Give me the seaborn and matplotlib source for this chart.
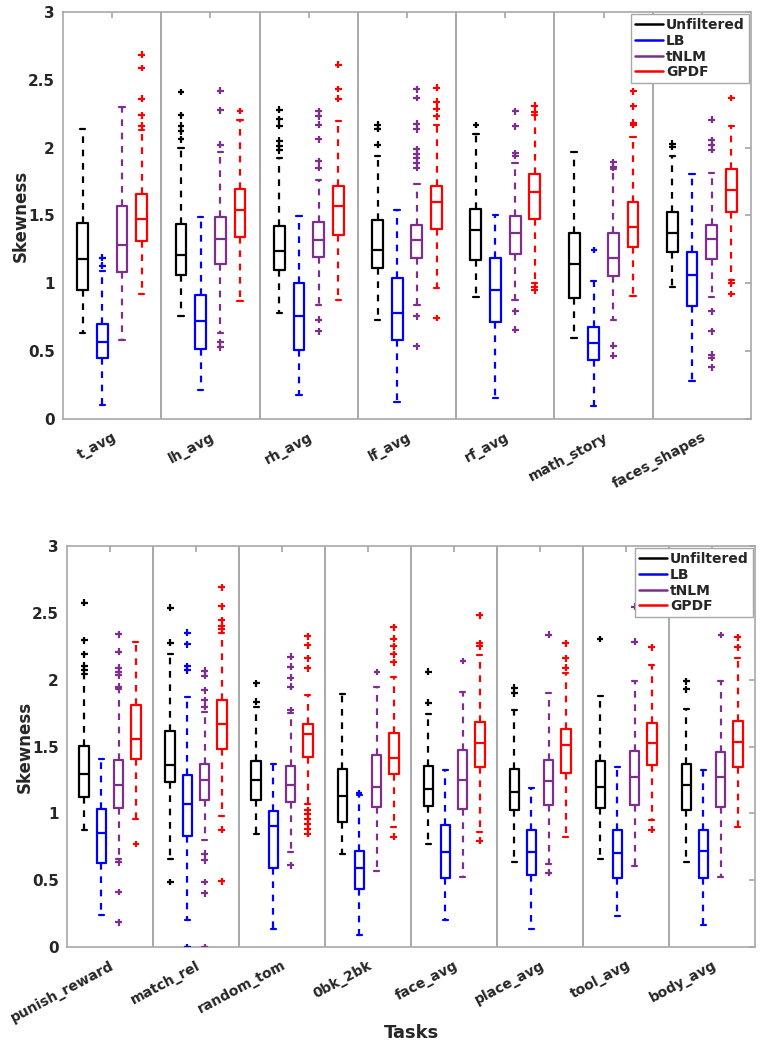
import numpy as np
import pandas as pd
import matplotlib
matplotlib.use("Agg")
import matplotlib.pyplot as plt
import seaborn as sns
from matplotlib.lines import Line2D

# ---------------- data ----------------
FILTERS = ["Unfiltered", "LB", "tNLM", "GPDF"]
COLORS = ["#000000", "#0000ff", "#7e2f8e", "#ff0000"]

TOP_TASKS = ["t_avg", "lh_avg", "rh_avg", "lf_avg", "rf_avg", "math_story", "faces_shapes"]
# five-number summaries: [whisker low, q1, median, q3, whisker high]
TOP_UNF = [[0.63, 0.95, 1.18, 1.445, 2.14], [0.76, 1.06, 1.21, 1.44, 2.00],
           [0.78, 1.10, 1.235, 1.425, 1.92], [0.73, 1.11, 1.245, 1.465, 1.94],
           [0.90, 1.17, 1.39, 1.55, 2.10], [0.60, 0.89, 1.145, 1.37, 1.97],
           [0.97, 1.23, 1.37, 1.525, 1.94]]
TOP_LB = [[0.105, 0.447, 0.565, 0.70, 1.09], [0.216, 0.516, 0.72, 0.916, 1.489],
          [0.179, 0.511, 0.762, 1.002, 1.494], [0.125, 0.58, 0.781, 1.039, 1.538],
          [0.155, 0.713, 0.953, 1.19, 1.506], [0.093, 0.432, 0.56, 0.676, 1.02],
          [0.283, 0.835, 1.061, 1.229, 1.808]]
TOP_TNLM = [[0.585, 1.083, 1.283, 1.573, 2.30], [0.634, 1.142, 1.327, 1.489, 1.97],
            [0.843, 1.194, 1.322, 1.452, 1.76], [0.843, 1.187, 1.322, 1.427, 1.735],
            [0.88, 1.216, 1.371, 1.494, 1.887], [0.732, 1.052, 1.187, 1.371, 1.84],
            [0.90, 1.179, 1.327, 1.427, 1.81]]
TOP_GPDF = [[0.924, 1.315, 1.477, 1.66, 2.13], [0.867, 1.339, 1.538, 1.695, 2.20],
            [0.88, 1.359, 1.572, 1.715, 2.194], [0.966, 1.40, 1.60, 1.72, 2.17],
            [1.0, 1.474, 1.671, 1.808, 2.24], [0.904, 1.268, 1.415, 1.597, 2.079],
            [1.027, 1.528, 1.69, 1.843, 2.157]]
# outliers
TOP_UNF_OUT = [[], [2.41, 2.24, 2.16, 2.12, 2.06], [2.28, 2.21, 2.16, 2.05, 2.01, 1.98],
               [2.17, 2.14, 2.02], [2.17], [], [2.03, 2.005]]
TOP_LB_OUT = [[1.19, 1.13], [], [], [], [], [1.248], []]
TOP_TNLM_OUT = [[], [2.42, 2.275, 2.02, 0.565, 0.528],
                [2.268, 2.231, 2.17, 2.06, 1.90, 1.85, 0.732, 0.646],
                [2.43, 2.366, 2.177, 2.137, 1.99, 1.956, 1.924, 1.887, 1.85, 0.757, 0.536],
                [2.268, 2.157, 1.96, 1.94, 0.794, 0.658], [1.894, 1.857, 0.54, 0.467],
                [2.206, 2.054, 2.022, 1.985, 0.794, 0.646, 0.474, 0.45, 0.381]]
TOP_GPDF_OUT = [[2.686, 2.587, 2.36, 2.24, 2.16], [2.268], [2.612, 2.432, 2.359],
                [2.44, 2.34, 2.285, 2.23, 0.744], [2.31, 2.26, 0.973, 0.948],
                [2.415, 2.305, 2.182, 2.17], [2.366, 1.0, 0.921]]

BOT_TASKS = ["punish_reward", "match_rel", "random_tom", "0bk_2bk",
             "face_avg", "place_avg", "tool_avg", "body_avg"]
BOT_UNF = [[0.873, 1.123, 1.298, 1.502, 2.046], [0.661, 1.235, 1.365, 1.617, 2.19],
           [0.849, 1.098, 1.248, 1.393, 1.797], [0.694, 0.936, 1.128, 1.333, 1.892],
           [0.774, 1.053, 1.185, 1.358, 1.747], [0.636, 1.028, 1.16, 1.335, 1.777],
           [0.661, 1.041, 1.198, 1.393, 1.877], [0.636, 1.028, 1.21, 1.368, 1.784]]
BOT_LB = [[0.237, 0.629, 0.856, 1.033, 1.408], [0.2, 0.829, 1.073, 1.29, 1.867],
          [0.137, 0.591, 0.903, 1.016, 1.368], [0.092, 0.434, 0.591, 0.719, 1.14],
          [0.2, 0.517, 0.711, 0.911, 1.328], [0.137, 0.542, 0.711, 0.873, 1.193],
          [0.23, 0.519, 0.706, 0.878, 1.348], [0.162, 0.517, 0.719, 0.878, 1.328]]
BOT_TNLM = [[0.66, 1.041, 1.21, 1.398, 1.93], [0.80, 1.098, 1.248, 1.368, 1.76],
            [0.711, 1.086, 1.215, 1.353, 1.75], [0.567, 1.048, 1.198, 1.44, 1.947],
            [0.524, 1.036, 1.248, 1.472, 1.909], [0.624, 1.061, 1.243, 1.398, 1.902],
            [0.604, 1.061, 1.273, 1.467, 1.989], [0.524, 1.048, 1.273, 1.46, 1.989]]
BOT_GPDF = [[0.961, 1.41, 1.56, 1.814, 2.283], [0.978, 1.485, 1.672, 1.847, 2.35],
            [1.073, 1.422, 1.592, 1.672, 1.884], [0.898, 1.298, 1.418, 1.602, 2.021],
            [0.861, 1.348, 1.53, 1.685, 2.184], [0.824, 1.305, 1.515, 1.635, 2.05],
            [0.948, 1.36, 1.527, 1.677, 2.109], [0.898, 1.348, 1.535, 1.692, 2.159]]
BOT_UNF_OUT = [[2.575, 2.296, 2.19, 2.104, 2.071], [2.54, 2.278, 0.487], [1.972, 1.834],
               [], [2.059, 1.827], [1.939, 1.897], [2.303], [1.989, 1.927]]
BOT_LB_OUT = [[], [2.351, 2.266, 2.101, 2.071, 0.0], [], [1.155], [], [], [], []]
BOT_TNLM_OUT = [[2.341, 2.209, 2.089, 2.059, 2.034, 1.947, 0.636, 0.412, 0.187],
                [2.066, 2.03, 1.92, 1.847, 1.797, 0.699, 0.649, 0.487, 0.404, 0.0],
                [2.171, 2.096, 2.016, 1.947, 1.772, 0.611], [2.059], [2.141],
                [2.338, 0.557], [2.546, 2.284], [2.338]]
BOT_GPDF_OUT = [[0.774], [2.69, 2.551, 2.446, 2.40, 2.376, 0.878, 0.494],
                [2.326, 2.259, 2.159, 2.084, 1.023, 0.993, 0.961, 0.923, 0.886, 0.849],
                [2.391, 2.308, 2.251, 2.191, 2.129, 0.824], [2.483, 2.271, 2.251, 0.794],
                [2.271, 2.159, 2.091], [2.241, 0.878], [2.316, 2.241]]

YTICKS = [0, 0.5, 1, 1.5, 2, 2.5, 3]
YTICKLABELS = ["0", "0.5", "1", "1.5", "2", "2.5", "3"]


def to_long(tasks, per_filter):
    rows = []
    for f, per_task in zip(FILTERS, per_filter):
        for t, vals in zip(tasks, per_task):
            for v in vals:
                rows.append((t, f, v))
    return pd.DataFrame(rows, columns=["task", "filter", "value"])


sns.set_theme(style="white")
plt.rcParams["font.family"] = ["DejaVu Sans"]
plt.rcParams["font.weight"] = "bold"
plt.rcParams["axes.labelweight"] = "bold"

fig = plt.figure(figsize=(7.65, 10.5), dpi=100)
ax_top = fig.add_axes([0.0824, 0.601, 0.8993, 0.3876])
ax_bot = fig.add_axes([0.0876, 0.098, 0.8994, 0.382])

GRAY = "#a8a8a8"


def draw(ax, tasks, stats, outs, show_xlabel):
    dfb = to_long(tasks, stats)
    dfo = to_long(tasks, outs)
    sns.boxplot(data=dfb, x="task", y="value", hue="filter", order=tasks,
                hue_order=FILTERS, palette=COLORS, fill=False, whis=(0, 100),
                width=0.8, gap=0.45, linewidth=1.6, showfliers=False,
                whiskerprops=dict(linestyle=(0, (3, 3))), legend=False, ax=ax)
    sns.stripplot(data=dfo, x="task", y="value", hue="filter", order=tasks,
                  hue_order=FILTERS, palette=COLORS, dodge=True, jitter=False,
                  marker="+", size=5, linewidth=1.6, legend=False, ax=ax)
    n = len(tasks)
    for i in range(1, n):
        ax.axvline(i - 0.5, color=GRAY, lw=1.4, zorder=0)
    ax.set_xlim(-0.5, n - 0.5)
    ax.set_ylim(0, 3)
    ax.set_yticks(YTICKS)
    ax.set_yticklabels(YTICKLABELS, fontsize=11, fontweight="bold")
    ax.set_xticks(range(n))
    ax.set_xticklabels(tasks, rotation=28, ha="right", rotation_mode="anchor",
                       fontsize=10, fontweight="bold")
    ax.tick_params(axis="both", direction="in", top=True, right=True, length=4,
                   color=GRAY, pad=6)
    ax.tick_params(axis="x", pad=8)
    for s in ax.spines.values():
        s.set_color(GRAY)
        s.set_linewidth(1.2)
    ax.set_ylabel("Skewness", fontsize=12, fontweight="bold")
    ax.yaxis.set_label_coords(-0.049, 0.5)
    if show_xlabel:
        ax.set_xlabel("Tasks", fontsize=13, fontweight="bold")
        ax.xaxis.set_label_coords(0.5, -0.192)
    else:
        ax.set_xlabel("")
    handles = [Line2D([0], [0], color=c, lw=1.8) for c in COLORS]
    leg = ax.legend(handles, FILTERS, loc="upper right", fancybox=False,
                    framealpha=1, edgecolor=GRAY, borderaxespad=0.15,
                    prop=dict(weight="bold", size=10), handlelength=2.0,
                    handletextpad=0.2, labelspacing=0.12, borderpad=0.3)
    leg.get_frame().set_linewidth(1.0)


draw(ax_top, TOP_TASKS, [TOP_UNF, TOP_LB, TOP_TNLM, TOP_GPDF],
     [TOP_UNF_OUT, TOP_LB_OUT, TOP_TNLM_OUT, TOP_GPDF_OUT], False)
draw(ax_bot, BOT_TASKS, [BOT_UNF, BOT_LB, BOT_TNLM, BOT_GPDF],
     [BOT_UNF_OUT, BOT_LB_OUT, BOT_TNLM_OUT, BOT_GPDF_OUT], True)

fig.savefig("out.png", dpi=100)
